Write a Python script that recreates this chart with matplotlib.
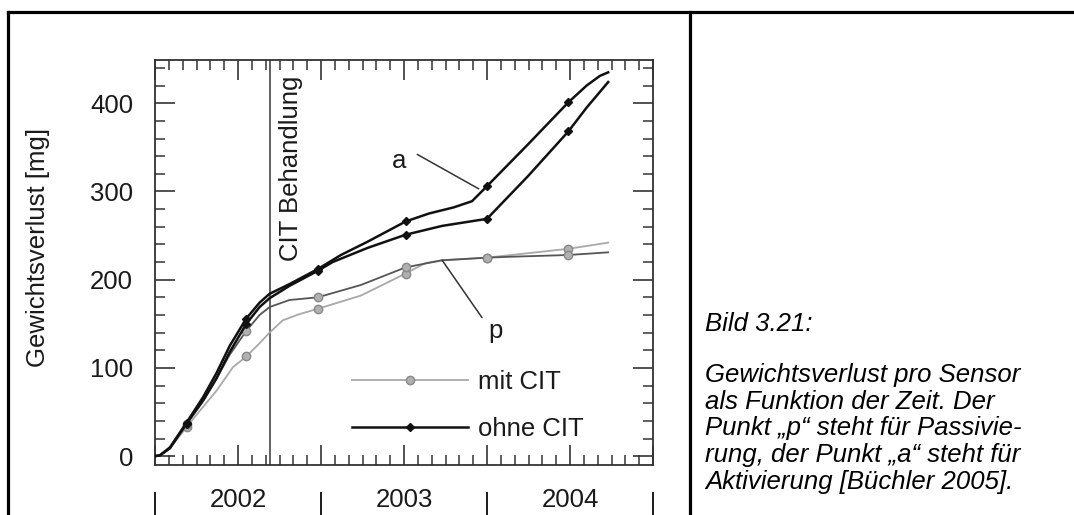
import matplotlib
matplotlib.use("Agg")
import matplotlib.pyplot as plt
from matplotlib.lines import Line2D
from matplotlib.ticker import MultipleLocator, NullFormatter
import numpy as np

plt.rcParams['font.family'] = ['Liberation Sans', 'DejaVu Sans']

# ---------------- data (decimal years, mg) ----------------
ohne_a_x = [2002.00, 2002.03, 2002.09, 2002.19, 2002.29, 2002.37, 2002.45, 2002.55, 2002.63,
            2002.69, 2002.81, 2002.98, 2003.12, 2003.28, 2003.51, 2003.65, 2003.80, 2003.91,
            2004.00, 2004.25, 2004.49, 2004.60, 2004.68, 2004.73]
ohne_a_y = [0, 1, 10, 38, 67, 94, 125, 156, 174, 184, 195, 212, 228, 243, 266, 275, 282, 289,
            306, 354, 401, 420, 431, 435]

ohne_b_x = [2002.00, 2002.03, 2002.09, 2002.19, 2002.29, 2002.37, 2002.45, 2002.55, 2002.63,
            2002.69, 2002.81, 2002.98, 2003.07, 2003.28, 2003.51, 2003.73, 2004.00, 2004.25,
            2004.49, 2004.60, 2004.73]
ohne_b_y = [0, 1, 9, 37, 63, 88, 118, 150, 169, 179, 193, 210, 220, 236, 251, 261, 269, 318,
            368, 395, 424]

mit_dark_x = [2002.00, 2002.03, 2002.09, 2002.19, 2002.29, 2002.37, 2002.45, 2002.55, 2002.63,
              2002.69, 2002.81, 2002.98, 2003.24, 2003.51, 2003.73, 2004.00, 2004.14, 2004.49,
              2004.73]
mit_dark_y = [0, 1, 9, 36, 63, 88, 115, 142, 160, 169, 177, 180, 194, 214, 222, 225, 226, 228, 231]

mit_light_x = [2002.00, 2002.03, 2002.09, 2002.19, 2002.29, 2002.37, 2002.47, 2002.55, 2002.63,
               2002.69, 2002.77, 2002.87, 2002.98, 2003.24, 2003.51, 2003.63, 2003.73, 2004.00,
               2004.49, 2004.73]
mit_light_y = [0, 1, 9, 33, 56, 74, 101, 113, 128, 140, 154, 161, 167, 182, 207, 219, 222, 225,
               235, 242]

marker_years = [2002.19, 2002.55, 2002.98, 2003.51, 2004.00, 2004.49]
cit_treatment = 2002.69
years = [2002, 2003, 2004]
year_bounds = [2002, 2003, 2004, 2005]
yticks = [0, 100, 200, 300, 400]

legend_labels = ["mit CIT", "ohne CIT"]
ylabel = "Gewichtsverlust [mg]"
cit_label = "CIT Behandlung"
caption_title = "Bild 3.21:"
caption_lines = ["Gewichtsverlust pro Sensor",
                 "als Funktion der Zeit. Der",
                 "Punkt \u201ep\u201c steht f\u00fcr Passivie-",
                 "rung, der Punkt \u201ea\u201c steht f\u00fcr",
                 "Aktivierung [B\u00fcchler 2005]."]

FS = 18.5
W, H = 1074, 515
TXT = '#1a1a1a'


def mark_idx(xs):
    return [i for i, v in enumerate(xs) if any(abs(v - m) < 1e-6 for m in marker_years)]


fig = plt.figure(figsize=(W / 100, H / 100), dpi=100)
ax = fig.add_axes([155 / W, 1 - 465 / H, (653 - 155) / W, (465 - 60) / H])

gray_mk = dict(marker='o', markersize=6, markerfacecolor='#b0b0b0', markeredgecolor='#888888',
               markeredgewidth=1.0)
l_light, = ax.plot(mit_light_x, mit_light_y, color='#a8a8a8', lw=1.3,
                   markevery=mark_idx(mit_light_x), **gray_mk, zorder=3)
ax.plot(mit_dark_x, mit_dark_y, color='#555555', lw=1.3,
        markevery=mark_idx(mit_dark_x), **gray_mk, zorder=3)
ax.plot(ohne_b_x, ohne_b_y, color='#111111', lw=1.8, marker='D', markersize=4,
        markevery=mark_idx(ohne_b_x), zorder=4)
l_black, = ax.plot(ohne_a_x, ohne_a_y, color='#111111', lw=1.8, marker='D', markersize=4,
                   markevery=mark_idx(ohne_a_x), zorder=4)

ax.axvline(cit_treatment, color='#555555', lw=1.3, zorder=2)
ax.annotate(cit_label, xy=(cit_treatment, 1), xycoords=('data', 'axes fraction'),
            xytext=(7, -11), textcoords='offset points', rotation=90,
            ha='left', va='top', fontsize=FS, color=TXT)

# pointer labels
ax.annotate("", xy=(2003.95, 303), xytext=(2003.58, 342),
            arrowprops=dict(arrowstyle='-', color='#333333', lw=1.1, shrinkA=0, shrinkB=0))
ax.text(2003.47, 327, "a", fontsize=FS, ha='center', va='baseline', color=TXT)
ax.annotate("", xy=(2003.97, 157), xytext=(2003.73, 222),
            arrowprops=dict(arrowstyle='-', color='#333333', lw=1.1, shrinkA=0, shrinkB=0))
ax.text(2004.05, 134, "p", fontsize=FS, ha='center', va='baseline', color=TXT)

ax.set_xlim(2002.0, 2005.0)
ax.set_ylim(-10, 449)

ax.xaxis.set_major_locator(MultipleLocator(0.5))
ax.xaxis.set_minor_locator(MultipleLocator(1 / 12))
ax.xaxis.set_major_formatter(NullFormatter())
ax.set_yticks(yticks)
ax.yaxis.set_minor_locator(MultipleLocator(20))

ax.tick_params(which='both', direction='in', top=True, right=True, color='#333333')
ax.tick_params(which='major', length=14.5, width=1.2)
ax.tick_params(which='minor', length=7.5, width=1.1)
ax.tick_params(axis='y', which='major', pad=15.8, labelsize=FS, labelcolor=TXT)
for sp in ax.spines.values():
    sp.set_color('#333333')
    sp.set_linewidth(1.3)

# year labels centred in each year
xt = ax.get_xaxis_transform()
for yr in years:
    ax.text(yr + 0.5, -0.087, str(yr), transform=xt, ha='center', va='center',
            fontsize=FS, color=TXT)

# year separators as ticks of a secondary axis below
sec = ax.secondary_xaxis(-0.067)
sec.set_xticks(year_bounds)
sec.xaxis.set_major_formatter(NullFormatter())
sec.xaxis.set_minor_locator(plt.NullLocator())
sec.tick_params(axis='x', which='major', direction='out', length=16.5, width=1.4, color=TXT)
sec.spines['bottom'].set_visible(False)

fig.text(38 / W, 1 - 247 / H, ylabel, rotation=90, ha='center', va='center',
         fontsize=FS, color=TXT)

leg = ax.legend([l_light, l_black], legend_labels, loc='center left',
                bbox_to_anchor=(0.396, 0.146), frameon=False, fontsize=FS,
                handlelength=4.5, handletextpad=0.4, labelspacing=0.9,
                borderpad=0, borderaxespad=0, numpoints=1)
for t in leg.get_texts():
    t.set_color(TXT)

# outer frame
lw_frame = 2.3
fig.add_artist(Line2D([8 / W, 1], [1 - 12 / H, 1 - 12 / H], color='black', lw=lw_frame,
                      transform=fig.transFigure))
fig.add_artist(Line2D([8 / W, 8 / W], [0, 1 - 12 / H], color='black', lw=lw_frame,
                      transform=fig.transFigure))
fig.add_artist(Line2D([690 / W, 690 / W], [0, 1 - 12 / H], color='black', lw=lw_frame,
                      transform=fig.transFigure))

# caption
fig.text(705 / W, 1 - 331 / H, caption_title, ha='left', va='baseline', fontsize=FS,
         style='italic', color='black')
for i, line in enumerate(caption_lines):
    fig.text(705 / W, 1 - (382 + i * 26.7) / H, line, ha='left', va='baseline',
             fontsize=FS, style='italic', color='black')

fig.savefig("out.png", dpi=100)
